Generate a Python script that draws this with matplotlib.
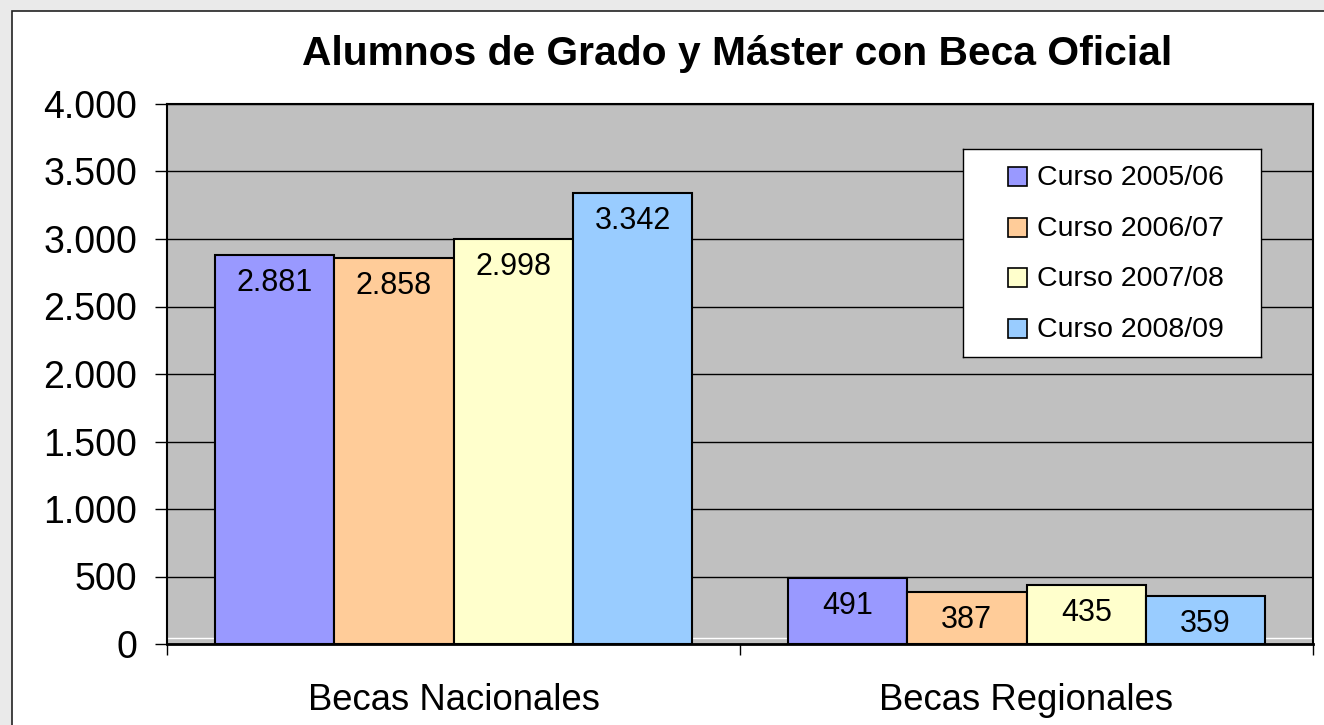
import matplotlib.pyplot as plt
import numpy as np
from matplotlib.patches import Rectangle
from matplotlib.ticker import FuncFormatter, MultipleLocator

plt.rcParams['font.family'] = ['Liberation Sans', 'DejaVu Sans']

categories = ["Becas Nacionales", "Becas Regionales"]
series = ["Curso 2005/06", "Curso 2006/07", "Curso 2007/08", "Curso 2008/09"]
values = [
    [2881, 491],
    [2858, 387],
    [2998, 435],
    [3342, 359],
]
colors = ["#9999FF", "#FFCC99", "#FFFFCC", "#99CCFF"]

W, H = 1324, 725
fig = plt.figure(figsize=(W / 100, H / 100), dpi=100, facecolor="#EAEAEA")

# white chart area with dark border (left/top)
fig.patches.append(Rectangle((12 / W, -0.1), 1.2, (H - 11) / H + 0.1,
                             transform=fig.transFigure, facecolor="white",
                             edgecolor="#222222", lw=1.2, zorder=-10))

def fx(px):
    return px / W

def fy(py):
    return 1 - py / H

ax = fig.add_axes([fx(167), fy(644), fx(1313) - fx(167), fy(104) - fy(644)])
ax.set_facecolor("#C0C0C0")

x = np.arange(len(categories))
bw = 0.2085
for i, (name, vals) in enumerate(zip(series, values)):
    pos = x + (i - 1.5) * bw
    bars = ax.bar(pos, vals, width=bw, color=colors[i], edgecolor="black",
                  linewidth=1.5, zorder=3, label=name)
    for b, v in zip(bars, vals):
        ax.annotate(f"{v:,}".replace(",", "."),
                    (b.get_x() + b.get_width() / 2, v),
                    xytext=(0, -28 * 0.72), textcoords="offset points",
                    ha="center", va="center", fontsize=22, zorder=4)

ax.set_xlim(-0.5, 1.5)
ax.set_ylim(0, 4000)
ax.yaxis.set_major_locator(MultipleLocator(500))
ax.yaxis.set_major_formatter(FuncFormatter(lambda v, p: f"{v:,.0f}".replace(",", ".")))
ax.grid(axis="y", color="black", lw=1, zorder=1)
ax.axhline(44, color="white", lw=1, zorder=2)
ax.set_axisbelow(True)

ax.set_xticks(x)
ax.set_xticklabels(categories)
ax.set_xticks([-0.5, 0.5, 1.5], minor=True)
ax.tick_params(axis="x", which="major", length=0, pad=28, labelsize=26.3)
ax.tick_params(axis="x", which="minor", length=8, width=1, color="black")
ax.tick_params(axis="y", length=8.5, width=1, pad=13, labelsize=27)

for s in ax.spines.values():
    s.set_color("black")
    s.set_linewidth(1.5)
ax.spines["bottom"].set_linewidth(2)

fig.text(fx(737), fy(54), "Alumnos de Grado y Máster con Beca Oficial",
         ha="center", va="center", fontsize=29.3, fontweight="bold")

# legend box
lax = fig.add_axes([fx(963), fy(357), fx(1261) - fx(963), fy(149) - fy(357)])
lax.set_xlim(963, 1261)
lax.set_ylim(357, 149)
lax.set_xticks([])
lax.set_yticks([])
lax.set_facecolor("white")
for s in lax.spines.values():
    s.set_color("black")
    s.set_linewidth(1)
rows = [176, 227, 277, 328]
for name, c, ry in zip(series, colors, rows):
    lax.add_patch(Rectangle((1008, ry - 9.5), 19, 19, facecolor=c,
                            edgecolor="black", lw=1.2))
    lax.text(1037, ry + 2, name, ha="left", va="center", fontsize=20.5)

fig.savefig("out.png", dpi=100, facecolor=fig.get_facecolor())
